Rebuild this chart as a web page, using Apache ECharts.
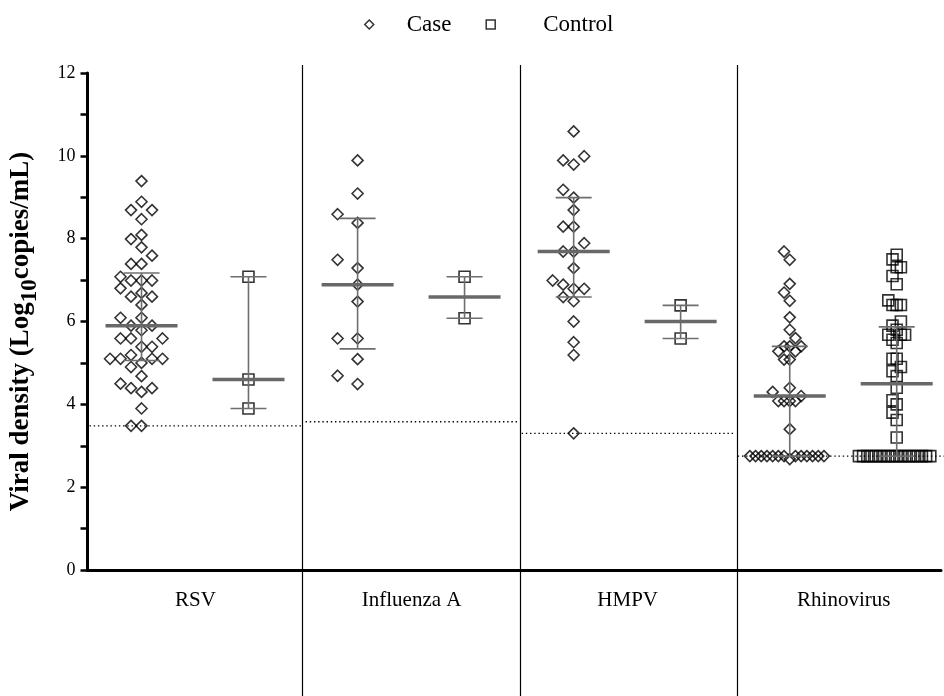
<!DOCTYPE html>
<html>
<head>
<meta charset="utf-8">
<title>Viral density</title>
<script src="https://cdn.jsdelivr.net/npm/echarts@6/dist/echarts.min.js"></script>
<style>
  html, body { margin: 0; padding: 0; background: #fff; }
  #main { width: 944px; height: 696px; }
</style>
</head>
<body>
<div id="main"></div>
<script>
// groups and points (log10 copies/mL)
const groups = ['RSV', 'Influenza A', 'HMPV', 'Rhinovirus'];

const rsvCase = [9.39, 8.89, 8.69, 8.69, 8.47, 8.09, 7.99, 7.79, 7.59, 7.39, 7.39, 7.08,
  6.99, 6.99, 6.99, 6.80, 6.69, 6.60, 6.60, 6.40, 6.09, 6.09, 5.90, 5.90, 5.79,
  5.59, 5.59, 5.59, 5.39, 5.39, 5.19, 5.10, 5.10, 5.10, 5.10, 5.00, 4.90, 4.68,
  4.50, 4.39, 4.39, 4.30, 3.90, 3.48, 3.48];
const rsvControl = [7.08, 4.60, 3.90];

const fluCase = [9.89, 9.09, 8.59, 8.38, 7.49, 7.29, 6.89, 6.48, 5.59, 5.59, 5.09, 4.69, 4.49];
const fluControl = [7.08, 6.08];

const hmpvCase = [10.59, 9.99, 9.89, 9.79, 9.18, 8.99, 8.69, 8.29, 8.29, 7.89, 7.69, 7.69,
  7.29, 6.99, 6.89, 6.79, 6.79, 6.59, 6.49, 6.00, 5.50, 5.19, 3.30];
const hmpvControl = [6.39, 5.59];

const rhinoCase = [7.69, 7.49, 6.91, 6.70, 6.50, 6.10, 5.80, 5.60, 5.40, 5.40, 5.40, 5.28,
  5.28, 5.08, 5.08, 4.40, 4.30, 4.20, 4.08, 4.08, 4.08, 4.08, 3.40,
  2.75, 2.75, 2.75, 2.75, 2.75, 2.75, 2.75, 2.75, 2.75, 2.75, 2.75, 2.75, 2.75, 2.68];
const rhinoControl = [7.61, 7.50, 7.31, 7.31, 7.10, 6.90, 6.51, 6.40, 6.40, 6.40, 6.00,
  5.90, 5.80, 5.68, 5.68, 5.68, 5.56, 5.48, 5.10, 5.10, 4.90, 4.80, 4.68, 4.40,
  4.10, 4.00, 3.80, 3.62, 3.20,
  2.75, 2.75, 2.75, 2.75, 2.75, 2.75, 2.75, 2.75, 2.75, 2.75, 2.75, 2.75, 2.75,
  2.75, 2.75, 2.75, 2.75, 2.75];

// median and interquartile range per group
const caseMedian = [5.90, 6.89, 7.69, 4.20];
const caseQ1 = [5.06, 5.34, 6.59, 2.75];
const caseQ3 = [7.17, 8.49, 8.99, 5.40];
const controlMedian = [4.60, 6.59, 6.00, 4.50];
const controlQ1 = [3.90, 6.08, 5.59, 2.75];
const controlQ3 = [7.08, 7.08, 6.39, 5.87];

// detection limit (dotted line) per group
const lod = [3.48, 3.58, 3.30, 2.75];

const yTicks = [0, 2, 4, 6, 8, 10, 12];

const caseData = [rsvCase, fluCase, hmpvCase, rhinoCase];
const controlData = [rsvControl, fluControl, hmpvControl, rhinoControl];

const CASE_POS = 0.25;
const CONTROL_POS = 0.745;
const X_MAX = 3.95;
// horizontal spacing of the swarm, px
const caseStep = [10.5, 20, 10.5, 5.7];
const controlStep = [10.5, 10.5, 10.5, 4.2];

const FONT = 'Liberation Serif';
const GRAY = '#6e6e6e';

let chart = echarts.init(document.getElementById('main'));

chart.setOption({
  animation: false,
  backgroundColor: '#fff',
  legend: {
    top: 8,
    left: 359,
    itemWidth: 9,
    itemHeight: 9,
    itemGap: 34,
    data: [
      { name: 'Case', icon: 'diamond' },
      { name: 'Control', icon: 'rect', textStyle: { padding: [0, 0, 0, 43] } }
    ],
    itemStyle: { color: 'rgba(0,0,0,0)', borderColor: '#000', borderWidth: 1.5 },
    textStyle: { fontFamily: FONT, fontSize: 23, color: '#000', padding: [0, 0, 0, 28] }
  },
  grid: [
    { left: 85, right: 0, top: 73, bottom: 126 },
    // only used for the group separators, which run past the axis
    { left: 85, right: 0, top: 65, bottom: 0 }
  ],
  xAxis: [
    {
      type: 'value',
      gridIndex: 0,
      min: 0,
      max: X_MAX,
      interval: 0.5,
      axisLine: { show: true, lineStyle: { color: '#000', width: 3 } },
      axisTick: { show: false },
      splitLine: { show: false },
      axisLabel: {
        fontFamily: FONT,
        fontSize: 21,
        color: '#000',
        margin: 20,
        formatter: function (v) {
          let i = Math.floor(v);
          if (Math.abs(v - i - 0.5) < 1e-6 && groups[i]) return groups[i];
          return '';
        }
      }
    },
    {
      type: 'value',
      gridIndex: 1,
      min: 0,
      max: X_MAX,
      interval: 1,
      axisLine: { show: false },
      axisTick: { show: false },
      axisLabel: { show: false },
      splitLine: {
        show: true,
        showMinLine: false,
        showMaxLine: false,
        lineStyle: { color: '#000', width: 1.2 }
      }
    }
  ],
  yAxis: [
    {
      type: 'value',
      gridIndex: 0,
      min: yTicks[0],
      max: yTicks[yTicks.length - 1],
      interval: 2,
      name: 'Viral density (Log{sub|10}copies/mL)',
      nameLocation: 'middle',
      nameGap: 46,
      nameTextStyle: {
        fontFamily: FONT,
        fontSize: 27,
        fontWeight: 'bold',
        color: '#000',
        padding: [0, 20, 0, 0],
        rich: {
          sub: { fontFamily: FONT, fontSize: 23, fontWeight: 'bold', color: '#000', padding: [17, 0, 0, 0] }
        }
      },
      axisLine: { show: true, lineStyle: { color: '#000', width: 3 } },
      axisTick: { show: true, length: 7, lineStyle: { color: '#000', width: 2.5 } },
      minorTick: { show: true, splitNumber: 2, length: 7, lineStyle: { color: '#000', width: 2.5 } },
      splitLine: { show: false },
      axisLabel: { fontFamily: FONT, fontSize: 18, color: '#000', margin: 12 }
    },
    { type: 'value', gridIndex: 1, min: 0, max: 1, show: false, splitLine: { show: false } }
  ],
  series: []
});

// px per data unit, from the axes
let p0 = chart.convertToPixel({ gridIndex: 0 }, [0, 0]);
let p1 = chart.convertToPixel({ gridIndex: 0 }, [1, 1]);
let pxX = p1[0] - p0[0];
let pxY = p0[1] - p1[1];

// simple beeswarm: each point goes to the nearest free slot beside the column centre
function swarm(values, center, stepPx) {
  let sorted = values.slice().sort((a, b) => a - b);
  let placed = [];
  let out = [];
  for (let v of sorted) {
    let py = v * pxY;
    let off = 0;
    for (let i = 0; i < 80; i++) {
      let k = i === 0 ? 0 : (i % 2 ? -Math.ceil(i / 2) : Math.ceil(i / 2));
      let ox = k * stepPx;
      let hit = placed.some(p => Math.abs(p[0] - ox) < Math.min(stepPx * 0.99, 10.4) && Math.abs(p[1] - py) < 10);
      if (!hit) { off = ox; break; }
    }
    placed.push([off, py]);
    out.push([center + off / pxX, v]);
  }
  return out;
}

let casePoints = [];
let controlPoints = [];
let statRows = [];
let lodRows = [];
for (let i = 0; i < groups.length; i++) {
  casePoints = casePoints.concat(swarm(caseData[i], i + CASE_POS, caseStep[i]));
  controlPoints = controlPoints.concat(swarm(controlData[i], i + CONTROL_POS, controlStep[i]));
  statRows.push([i + CASE_POS, caseMedian[i], caseQ1[i], caseQ3[i]]);
  statRows.push([i + CONTROL_POS, controlMedian[i], controlQ1[i], controlQ3[i]]);
  lodRows.push([i, i + 1, lod[i]]);
}

const hollow = { color: 'rgba(0,0,0,0)', borderColor: '#000', borderWidth: 1.6 };

chart.setOption({
  series: [
    {
      name: 'lod',
      type: 'custom',
      z: 1,
      silent: true,
      data: lodRows,
      encode: { x: [0, 1], y: 2 },
      renderItem: function (params, api) {
        let a = api.coord([api.value(0), api.value(2)]);
        let b = api.coord([api.value(1), api.value(2)]);
        return {
          type: 'line',
          shape: { x1: a[0] + 2, y1: a[1], x2: b[0] - 2, y2: b[1] },
          style: { stroke: '#000', lineWidth: 1.3, lineDash: [1.4, 2.8] }
        };
      }
    },
    {
      name: 'Case',
      type: 'scatter',
      z: 2,
      symbol: 'diamond',
      symbolSize: 11,
      itemStyle: hollow,
      data: casePoints
    },
    {
      name: 'Control',
      type: 'scatter',
      z: 2,
      symbol: 'rect',
      symbolSize: 11,
      itemStyle: hollow,
      data: controlPoints
    },
    {
      name: 'stats',
      type: 'custom',
      z: 3,
      silent: true,
      data: statRows,
      encode: { x: 0, y: [1, 2, 3] },
      renderItem: function (params, api) {
        let x = api.value(0);
        let m = api.coord([x, api.value(1)]);
        let lo = api.coord([x, api.value(2)]);
        let hi = api.coord([x, api.value(3)]);
        let thin = { stroke: GRAY, lineWidth: 1.6 };
        return {
          type: 'group',
          children: [
            { type: 'line', shape: { x1: m[0], y1: lo[1], x2: m[0], y2: hi[1] }, style: thin },
            { type: 'line', shape: { x1: m[0] - 18, y1: lo[1], x2: m[0] + 18, y2: lo[1] }, style: thin },
            { type: 'line', shape: { x1: m[0] - 18, y1: hi[1], x2: m[0] + 18, y2: hi[1] }, style: thin },
            { type: 'line', shape: { x1: m[0] - 36, y1: m[1], x2: m[0] + 36, y2: m[1] }, style: { stroke: '#686868', lineWidth: 3.5 } }
          ]
        };
      }
    }
  ]
});
</script>
</body>
</html>
